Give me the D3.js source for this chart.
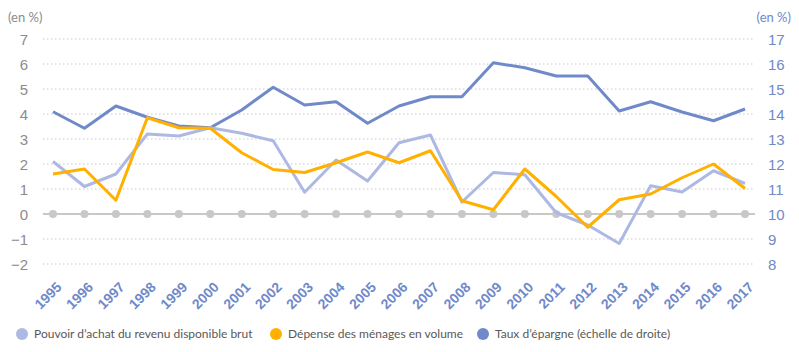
<!DOCTYPE html>
<html>
<head>
<meta charset="utf-8">
<script src="https://cdn.jsdelivr.net/npm/d3@7"></script>
<style>
  body { margin: 0; background: #fff; }
  svg { font-family: Lato, "Open Sans", sans-serif; }
</style>
</head>
<body>
<div id="wrapper"></div>
<script>
// data
const years = ["1995","1996","1997","1998","1999","2000","2001","2002","2003","2004","2005","2006",
  "2007","2008","2009","2010","2011","2012","2013","2014","2015","2016","2017"]
const pouvoirAchat = [2.1, 1.1, 1.6, 3.2, 3.12, 3.45, 3.23, 2.93, 0.87, 2.16, 1.32, 2.85,
  3.16, 0.48, 1.66, 1.57, 0.05, -0.44, -1.18, 1.13, 0.88, 1.73, 1.22]
const depense = [1.6, 1.8, 0.55, 3.85, 3.45, 3.43, 2.45, 1.78, 1.66, 2.05, 2.48, 2.05,
  2.53, 0.53, 0.17, 1.8, 0.7, -0.53, 0.57, 0.8, 1.45, 2.0, 1.02]
const tauxEpargne = [14.09, 13.43, 14.32, 13.87, 13.52, 13.45, 14.16, 15.07, 14.36, 14.49, 13.63, 14.32,
  14.69, 14.69, 16.05, 15.85, 15.52, 15.52, 14.12, 14.49, 14.08, 13.73, 14.2]
const leftTicks = [-2, -1, 0, 1, 2, 3, 4, 5, 6, 7]
const rightTicks = [8, 9, 10, 11, 12, 13, 14, 15, 16, 17]
const legendLabels = ["Pouvoir d’achat du revenu disponible brut", "Dépense des ménages en volume", "Taux d’épargne (échelle de droite)"]

const colors = { light: "#adb9e3", orange: "#ffb000", dark: "#7089c8", grid: "#c8c8c8", text: "#8c8c8c" }

const width = 799, height = 352
const plot = { left: 43, right: 755, top: 39, bottom: 264 }

const svg = d3.select("#wrapper").append("svg")
    .attr("width", width)
    .attr("height", height)

// scales
const xScale = d3.scalePoint().domain(years).range([53, 745])
const yLeft = d3.scaleLinear().domain([-2, 7]).range([plot.bottom, plot.top])
const yRight = d3.scaleLinear().domain([8, 17]).range([plot.bottom, plot.top])

// grid
svg.append("g").selectAll("line")
  .data(leftTicks.filter(d => d !== 0))
  .join("line")
    .attr("x1", plot.left).attr("x2", plot.right)
    .attr("y1", d => yLeft(d)).attr("y2", d => yLeft(d))
    .attr("stroke", "#c8c8c8")
    .attr("stroke-width", 1)
    .attr("stroke-dasharray", "1.5,2.5")

// left axis
const leftAxis = svg.append("g")
    .attr("transform", "translate(28,0)")
    .call(d3.axisLeft(yLeft).tickValues(leftTicks).tickSize(0).tickPadding(0))
leftAxis.select(".domain").remove()
leftAxis.selectAll("text").attr("fill", colors.text).style("font-size", "15px").attr("dy", "0.35em")

// right axis
const rightAxis = svg.append("g")
    .attr("transform", "translate(768,0)")
    .call(d3.axisRight(yRight).tickValues(rightTicks).tickSize(0).tickPadding(0))
rightAxis.select(".domain").remove()
rightAxis.selectAll("text").attr("fill", colors.dark).style("font-size", "15px").attr("dy", "0.35em")

// unit labels
svg.append("text").attr("x", 8).attr("y", 22).text("(en %)")
    .attr("fill", colors.text).style("font-size", "13px")
svg.append("text").attr("x", 791).attr("y", 22).text("(en %)")
    .attr("text-anchor", "end").attr("fill", colors.dark).style("font-size", "13px")

// zero line with markers
svg.append("line")
    .attr("x1", plot.left).attr("x2", plot.right)
    .attr("y1", yLeft(0)).attr("y2", yLeft(0))
    .attr("stroke", colors.grid).attr("stroke-width", 2)
svg.append("g").selectAll("circle")
  .data(years)
  .join("circle")
    .attr("cx", d => xScale(d))
    .attr("cy", yLeft(0))
    .attr("r", 4)
    .attr("fill", colors.grid)

// x axis labels
const xAxis = svg.append("g")
    .attr("transform", "translate(0,272)")
    .call(d3.axisBottom(xScale).tickSize(0).tickPadding(0))
xAxis.select(".domain").remove()
xAxis.selectAll("text")
    .attr("fill", colors.dark)
    .style("font-size", "14px")
    .style("font-weight", "bold")
    .attr("text-anchor", "end")
    .attr("x", 0).attr("y", 0).attr("dy", 0)
    .attr("transform", "translate(9,16) rotate(-45)")

// lines
const lineLeft = d3.line().x((d, i) => xScale(years[i])).y(d => yLeft(d))
const lineRight = d3.line().x((d, i) => xScale(years[i])).y(d => yRight(d))

svg.append("path").attr("d", lineRight(tauxEpargne))
    .attr("fill", "none").attr("stroke", colors.dark).attr("stroke-width", 3).attr("stroke-linejoin", "round")
svg.append("path").attr("d", lineLeft(pouvoirAchat))
    .attr("fill", "none").attr("stroke", colors.light).attr("stroke-width", 3).attr("stroke-linejoin", "round")
svg.append("path").attr("d", lineLeft(depense))
    .attr("fill", "none").attr("stroke", colors.orange).attr("stroke-width", 3).attr("stroke-linejoin", "round")

// legend
const legendX = [22, 276, 483]
const legendColors = [colors.light, colors.orange, colors.dark]
const legend = svg.append("g").selectAll("g")
  .data(legendLabels)
  .join("g")
    .attr("transform", (d, i) => `translate(${legendX[i]},334)`)
legend.append("circle").attr("r", 6).attr("fill", (d, i) => legendColors[i])
legend.append("text")
    .attr("x", 12).attr("dy", "0.35em")
    .attr("fill", "#595959")
    .style("font-size", "12px")
    .text(d => d)
</script>
</body>
</html>
